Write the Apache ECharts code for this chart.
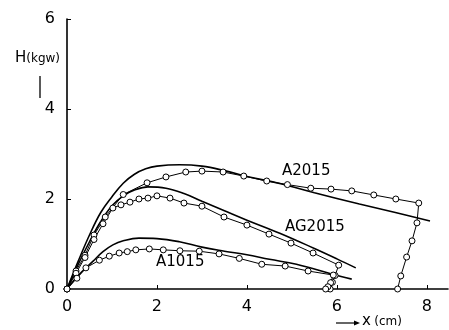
<!DOCTYPE html>
<html lang="en">
<head>
    <meta charset="UTF-8">
    <title>H - x curves</title>
    <script src="https://cdn.jsdelivr.net/npm/echarts@6.0.0/dist/echarts.min.js"></script>
    <style>
        html, body { margin: 0; padding: 0; background: #fff; }
    </style>
</head>
<body>
    <div id="main" style="width: 449px;height:330px;"></div>
    <script type="text/javascript">
        // axis ticks
        const xTicks = [0, 2, 4, 6, 8];
        const yTicks = [0, 2, 4, 6];

        // smooth (calculated) curves, [x cm, H kgw]
        const a2015Curve = [[0, 0], [0.25, 0.62], [0.5, 1.2], [0.75, 1.7], [1.0, 2.05], [1.25, 2.35], [1.5, 2.55],
            [1.75, 2.67], [2.0, 2.73], [2.5, 2.76], [3.0, 2.73], [3.5, 2.63], [4.0, 2.5], [4.75, 2.34],
            [5.5, 2.14], [6.5, 1.89], [7.3, 1.7], [8.07, 1.51]];
        const ag2015Curve = [[0, 0], [0.25, 0.55], [0.5, 1.05], [0.75, 1.5], [1.0, 1.85], [1.25, 2.07], [1.5, 2.2],
            [1.8, 2.27], [2.2, 2.24], [2.6, 2.12], [3.0, 1.95], [3.5, 1.74], [4.0, 1.53], [4.73, 1.24],
            [5.5, 0.9], [6.0, 0.67], [6.42, 0.47]];
        const a1015Curve = [[0, 0], [0.25, 0.3], [0.58, 0.62], [0.8, 0.83], [1.02, 0.98], [1.25, 1.07], [1.6, 1.13],
            [2.0, 1.12], [2.5, 1.05], [3.0, 0.93], [3.5, 0.84], [4.0, 0.76], [4.5, 0.66], [5.1, 0.55],
            [5.9, 0.33], [6.33, 0.22]];

        // measured points
        const a2015Pts = [[0, 0], [0.2, 0.4], [0.4, 0.75], [0.6, 1.2], [0.85, 1.6], [1.25, 2.1], [1.78, 2.36],
            [2.2, 2.49], [2.64, 2.6], [3.0, 2.62], [3.47, 2.6], [3.93, 2.51], [4.44, 2.4], [4.9, 2.32],
            [5.42, 2.24], [5.87, 2.22], [6.33, 2.18], [6.82, 2.09], [7.31, 2.0], [7.82, 1.91], [7.78, 1.47],
            [7.67, 1.07], [7.55, 0.71], [7.42, 0.29], [7.35, 0]];
        const ag2015Pts = [[0, 0], [0.2, 0.35], [0.4, 0.7], [0.6, 1.1], [0.8, 1.45], [1.02, 1.8], [1.2, 1.87],
            [1.4, 1.93], [1.6, 2.0], [1.8, 2.02], [2.0, 2.07], [2.29, 2.02], [2.6, 1.91], [3.0, 1.84],
            [3.49, 1.6], [4.0, 1.42], [4.49, 1.22], [4.98, 1.02], [5.47, 0.8], [6.04, 0.53], [5.96, 0.3],
            [5.9, 0.15], [5.85, 0]];
        const a1015Pts = [[0, 0], [0.22, 0.24], [0.42, 0.47], [0.72, 0.64], [0.94, 0.73], [1.16, 0.8],
            [1.34, 0.83], [1.53, 0.87], [1.83, 0.89], [2.14, 0.87], [2.51, 0.85], [2.94, 0.84], [3.38, 0.78],
            [3.83, 0.68], [4.33, 0.55], [4.85, 0.51], [5.36, 0.4], [5.92, 0.31], [5.86, 0.14], [5.8, 0.05],
            [5.75, 0]];

        const font = 'DejaVu Sans';

        function curve(name, data) {
            return {
                name: name, type: 'line', data: data, smooth: 0.4, showSymbol: false, silent: true,
                lineStyle: { color: '#000', width: 1.6 }
            };
        }
        function points(name, data) {
            return {
                name: name, type: 'line', data: data, symbol: 'circle', symbolSize: 6, silent: true,
                lineStyle: { color: '#000', width: 1 },
                itemStyle: { color: '#fff', borderColor: '#000', borderWidth: 1 }
            };
        }

        let options = {
            animation: false,
            backgroundColor: '#fff',
            grid: { left: 67, right: 1, top: 19, bottom: 41, outerBoundsMode: 'none' },
            xAxis: {
                type: 'value', min: 0, max: 8.47,
                axisLine: { lineStyle: { color: '#000', width: 1.6 } },
                axisTick: { inside: true, length: 4, customValues: [2, 4, 6, 8], lineStyle: { color: '#000' } },
                axisLabel: { customValues: xTicks, color: '#000', fontSize: 16, fontFamily: font, margin: 10 },
                splitLine: { show: false }
            },
            yAxis: {
                type: 'value', min: 0, max: 6,
                axisLine: { show: true, lineStyle: { color: '#000', width: 1.6 } },
                axisTick: { show: true, inside: true, length: 4, customValues: [2, 4, 6], lineStyle: { color: '#000' } },
                axisLabel: { customValues: yTicks, color: '#000', fontSize: 16, fontFamily: font, margin: 12 },
                splitLine: { show: false }
            },
            graphic: [
                {
                    type: 'text', left: 15, top: 51,
                    style: {
                        text: '{h|H}{u|(kgw)}', fill: '#000',
                        rich: { h: { fontSize: 15, fontFamily: font }, u: { fontSize: 12, fontFamily: font } }
                    }
                },
                { type: 'line', shape: { x1: 40, y1: 76, x2: 40, y2: 98 }, style: { stroke: '#000', lineWidth: 1.3 } },
                { type: 'line', shape: { x1: 336, y1: 323, x2: 356, y2: 323 }, style: { stroke: '#000', lineWidth: 1.2 } },
                { type: 'polygon', shape: { points: [[360, 323], [354, 320.5], [354, 325.5]] }, style: { fill: '#000' } },
                {
                    type: 'text', left: 362, top: 314,
                    style: {
                        text: '{x|x} {u|(cm)}', fill: '#000',
                        rich: { x: { fontSize: 15, fontFamily: font }, u: { fontSize: 12, fontFamily: font } }
                    }
                },
                { type: 'text', left: 282, top: 164, style: { text: 'A2015', fontSize: 15, fontFamily: font, fill: '#000' } },
                { type: 'text', left: 285, top: 220, style: { text: 'AG2015', fontSize: 15, fontFamily: font, fill: '#000' } },
                { type: 'text', left: 156, top: 255, style: { text: 'A1015', fontSize: 15, fontFamily: font, fill: '#000' } }
            ],
            series: [
                curve('A2015 calc', a2015Curve),
                curve('AG2015 calc', ag2015Curve),
                curve('A1015 calc', a1015Curve),
                points('A2015', a2015Pts),
                points('AG2015', ag2015Pts),
                points('A1015', a1015Pts)
            ]
        };

        let myChart = echarts.init(document.getElementById('main'));
        myChart.setOption(options);
    </script>
</body>
</html>
